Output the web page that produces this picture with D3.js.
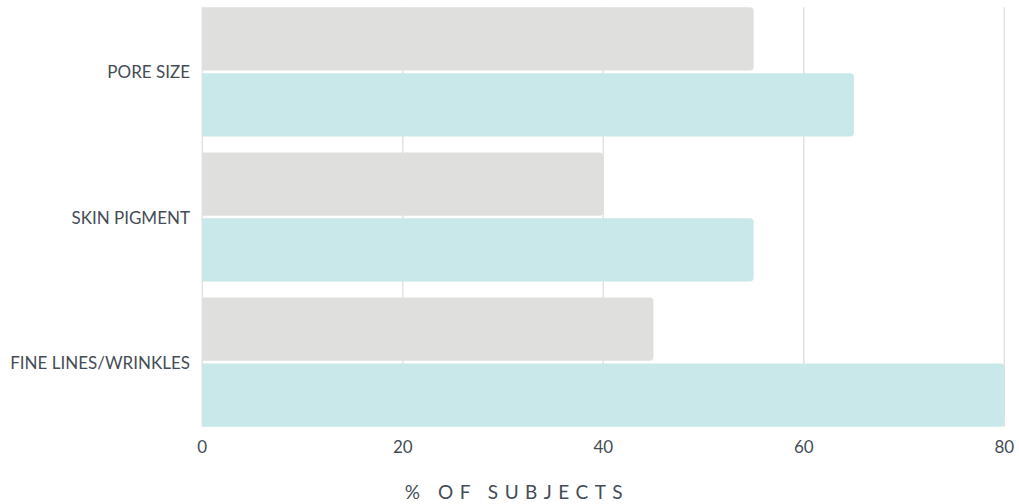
<!DOCTYPE html>
<html>
<head>
<meta charset="utf-8">
<script src="https://cdn.jsdelivr.net/npm/d3@7"></script>
<style>
  html, body { margin: 0; padding: 0; background: #ffffff; }
  svg { display: block; }
</style>
</head>
<body>
<div id="chart"></div>
<script>
const categories = ["PORE SIZE", "SKIN PIGMENT", "FINE LINES/WRINKLES"];
const seriesNames = ["before", "after"];
const beforeValues = [55, 40, 45];
const afterValues = [65, 55, 80];
const xTicks = [0, 20, 40, 60, 80];
const xTitle = "% OF SUBJECTS";

const W = 1019, H = 504;
const margin = { left: 202.3, right: 14.7, top: 7.3, bottom: 77.3 };
const colors = { before: "#dfe0de", after: "#c9e8e9" };

const svg = d3.select("#chart").append("svg").attr("width", W).attr("height", H);

const x = d3.scaleLinear().domain([0, 80]).range([margin.left, W - margin.right]);
const y0 = d3.scaleBand().domain(categories).range([margin.top, H - margin.bottom]).paddingInner(0.11).paddingOuter(0);
const y1 = d3.scaleBand().domain(seriesNames).range([0, y0.bandwidth()]).paddingInner(0.04).paddingOuter(0);

const plotTop = margin.top, plotBottom = H - margin.bottom;

// gridlines
svg.append("g").selectAll("line").data(xTicks).join("line")
  .attr("x1", d => x(d)).attr("x2", d => x(d))
  .attr("y1", plotTop).attr("y2", plotBottom)
  .attr("stroke", "#e2e2e2").attr("stroke-width", 1.5);

const data = categories.map((c, i) => ({ cat: c, before: beforeValues[i], after: afterValues[i] }));

function barPath(x0, x1, yTop, h, r) {
  const w = x1 - x0;
  r = Math.min(r, w, h / 2);
  return `M${x0},${yTop}H${x1 - r}Q${x1},${yTop} ${x1},${yTop + r}V${yTop + h - r}Q${x1},${yTop + h} ${x1 - r},${yTop + h}H${x0}Z`;
}

const groups = svg.append("g").selectAll("g").data(data).join("g")
  .attr("transform", d => `translate(0,${y0(d.cat)})`);

groups.selectAll("path").data(d => seriesNames.map(s => ({ s, v: d[s] }))).join("path")
  .attr("d", d => barPath(x(0), x(d.v), y1(d.s), y1.bandwidth(), 4))
  .attr("fill", d => colors[d.s]);

// category labels
svg.append("g").selectAll("text").data(categories).join("text")
  .attr("x", 190)
  .attr("y", d => y0(d) + y0.bandwidth() / 2)
  .attr("text-anchor", "end")
  .attr("dominant-baseline", "central")
  .attr("font-family", "Lato, sans-serif")
  .attr("font-size", 17)
  .attr("fill", "#444d56")
  .text(d => d);

// x tick labels
svg.append("g").selectAll("text").data(xTicks).join("text")
  .attr("x", d => x(d))
  .attr("y", 453)
  .attr("text-anchor", "middle")
  .attr("font-family", "Lato, sans-serif")
  .attr("font-size", 17)
  .attr("fill", "#444d56")
  .text(d => d);

// x axis title
svg.append("text")
  .attr("x", 517)
  .attr("y", 499)
  .attr("text-anchor", "middle")
  .attr("font-family", "Lato, sans-serif")
  .attr("font-size", 19)
  .attr("letter-spacing", "6.5px")
  .attr("fill", "#444d56")
  .text(xTitle);
</script>
</body>
</html>
